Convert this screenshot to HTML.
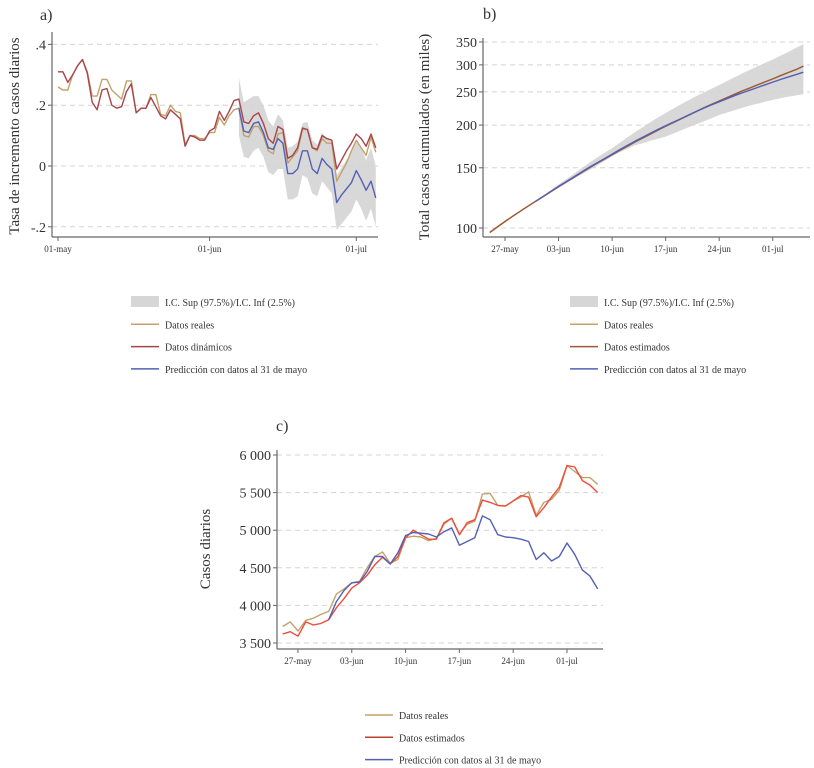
<!DOCTYPE html>
<html><head><meta charset="utf-8"><style>
body{margin:0;background:#fff;width:814px;height:768px;overflow:hidden}
svg{display:block}
text{font-family:"Liberation Serif",serif;fill:#333}
</style></head><body>
<svg id="c" width="814" height="768"></svg>
<script>
// ---- Panel a data (index 0 = 01-may) ----
const aReal=[.26,.25,.25,.30,.33,.35,.31,.23,.23,.285,.285,.25,.235,.22,.28,.28,.175,.19,.19,.235,.235,.17,.165,.20,.18,.175,.07,.10,.10,.09,.09,.11,.11,.16,.135,.165,.185,.19,.10,.095,.13,.13,.10,.05,.04,.105,.11,.01,.03,.05,.12,.12,.06,.05,.09,.075,.075,-.05,-.02,.01,.05,.085,.06,.035,.095,.045];
const aDyn=[.31,.31,.275,.30,.33,.35,.305,.21,.185,.25,.255,.20,.19,.195,.245,.27,.175,.19,.19,.225,.195,.165,.155,.185,.17,.155,.065,.10,.095,.085,.085,.115,.125,.18,.15,.18,.215,.22,.145,.14,.165,.175,.14,.09,.075,.13,.12,.025,.035,.06,.125,.12,.06,.055,.10,.09,.085,-.01,.02,.05,.075,.105,.09,.065,.105,.06];
const aPredStart=37;
const aPred=[.19,.115,.11,.14,.145,.11,.06,.055,.09,.075,-.025,-.025,-.01,.05,.05,-.01,-.025,.025,.005,-.01,-.12,-.095,-.075,-.055,-.015,-.045,-.08,-.05,-.105];
const aUp=[.29,.21,.22,.23,.23,.20,.15,.13,.17,.15,.06,.065,.08,.14,.145,.085,.07,.11,.09,.08,-.03,-.005,.02,.045,.08,.06,.02,.06,0.0];
const aLo=[.10,.03,.025,.05,.06,.03,-.02,-.03,-.01,-.01,-.11,-.11,-.10,-.03,-.04,-.09,-.10,-.05,-.07,-.09,-.21,-.19,-.17,-.15,-.11,-.14,-.18,-.14,-.20];
const aYTicks=[.4,.2,0,-.2];
const aYLabels=[".4",".2","0","-.2"];
const aXTicks=[0,31,61];
const aXLabels=["01-may","01-jun","01-jul"];
// ---- Panel b data (index 0 = 25-may), thousands ----
const bReal=[97,100.7,104.5,108.2,112,115.8,119.7,123.6,127.8,132,136.3,140.6,145.1,149.8,154.5,159,163.7,168.6,173.5,178.4,183.3,188.2,193.3,198.5,203.4,208.5,213.6,219.1,224.6,229.9,235.2,240.6,246,251.5,256.7,262.1,267.5,273,278.9,284.7,290.4,297.5];
const bPredStart=6;
const bPred=[119.7,123.8,128,132.3,136.6,141.1,145.7,150.4,154.9,159.6,164.5,169.5,174.5,179.4,184.3,189.3,194.3,199.1,204,208.9,214.1,219.3,224.2,229.1,234,238.9,243.7,248.3,253,257.6,262.3,267.1,271.8,276.3,280.7,285.5];
const bUp=[120,124.5,129,134,139,144,149.5,155,160.5,166,171,177.5,184,190.5,197,204,210.5,217,223.5,230,236.5,243,249,255.5,262,269,276,283,290,297,304,311,319,327,336,345];
const bLo=[119.5,123,127,131,135,139.5,143.5,147.5,152,157,162,166.5,170.5,174.5,177,180,182.5,185,189,193,197,201,205,209.5,214,217.5,221,224.5,228,231,234,237,239.5,242,244,246];
const bYTicks=[100,150,200,250,300,350];
const bXTicks=[2,9,16,23,30,37];
const bXLabels=["27-may","03-jun","10-jun","17-jun","24-jun","01-jul"];
// ---- Panel c data (index 0 = 25-may) ----
const cReal=[3720,3780,3660,3800,3830,3880,3920,4150,4220,4300,4320,4500,4650,4710,4560,4610,4900,4920,4910,4860,4890,5080,5160,4950,5080,5120,5480,5490,5330,5320,5390,5440,5510,5200,5370,5410,5530,5860,5780,5700,5700,5610];
const cEst=[3620,3650,3590,3780,3740,3760,3810,3970,4090,4230,4300,4400,4540,4640,4550,4650,4900,5000,4940,4880,4880,5100,5160,4940,5100,5140,5400,5370,5330,5320,5390,5460,5440,5180,5300,5440,5570,5860,5840,5660,5600,5500];
const cPredStart=6;
const cPred=[3810,4050,4200,4300,4310,4450,4650,4650,4550,4700,4930,4970,4960,4950,4910,4980,5030,4800,4850,4900,5190,5140,4940,4910,4900,4880,4850,4610,4700,4590,4650,4830,4680,4470,4390,4220];
const cYTicks=[3500,4000,4500,5000,5500,6000];
const cYLabels=["3 500","4 000","4 500","5 000","5 500","6 000"];
const cXTicks=[2,9,16,23,30,37];
const cXLabels=["27-may","03-jun","10-jun","17-jun","24-jun","01-jul"];

const NS="http://www.w3.org/2000/svg";
const svg=document.getElementById('c');
function mk(tag,attrs,parent){const e=document.createElementNS(NS,tag);for(const k in attrs)e.setAttribute(k,attrs[k]);(parent||svg).appendChild(e);return e;}
function txt(x,y,s,size,anchor,parent){const t=mk('text',{x:x,y:y,'font-size':size,'text-anchor':anchor||'start'},parent);t.textContent=s;return t;}

// scales
const ax=d=>58+d*4.89, ay=v=>166-v*304;
const bx=i=>489.7+i*7.65, by=v=>228-148.5*Math.log(v/100);
const cx=i=>282.6+i*7.686, cy=v=>643-(v-3500)*0.0752;

function linePath(vals,start,X,Y){return vals.map((v,i)=>(i?'L':'M')+X(i+start).toFixed(1)+','+Y(v).toFixed(1)).join(' ');}
function bandPath(up,lo,start,X,Y){let d=up.map((v,i)=>(i?'L':'M')+X(i+start).toFixed(1)+','+Y(v).toFixed(1)).join(' ');for(let i=lo.length-1;i>=0;i--)d+='L'+X(i+start).toFixed(1)+','+Y(lo[i]).toFixed(1);return d+'Z';}

function axes(g,left,right,top,bottom,yt,yl,Y,xt,xl,X,ySize){
  yt.forEach((v,i)=>{
    const gl=mk('line',{x1:left,x2:right,y1:Y(v),y2:Y(v),stroke:'#d4d4d4','stroke-dasharray':'5,4'},g);
    
    
    mk('line',{x1:left-4,x2:left,y1:Y(v),y2:Y(v),stroke:'#666'},g);
    const t=txt(left-6,Y(v)+5,yl[i],ySize,'end',g);
    
    
  });
  xt.forEach((v,i)=>{
    mk('line',{x1:X(v),x2:X(v),y1:bottom,y2:bottom+4,stroke:'#666'},g);
    const t=txt(X(v),bottom+15,xl[i],9,'middle',g);
    
    
  });
  const yl1=mk('line',{x1:left,x2:left,y1:top,y2:bottom,stroke:'#666','stroke-width':1.2},g);
  
  
  const xl1=mk('line',{x1:left,x2:right,y1:bottom,y2:bottom,stroke:'#666','stroke-width':1.2},g);
  
  
}
function series(g,vals,start,X,Y,color,name){
  const p=mk('path',{d:linePath(vals,start,X,Y),fill:'none',stroke:color,'stroke-width':1.4,'stroke-linejoin':'round'},g);
  
  
}
function legend(g,x,y,items){
  items.forEach((it,i)=>{
    const yy=y+i*22.3;
    if(it.band){mk('rect',{x:x,y:yy-6,width:28,height:11,fill:'#d6d6d6'},g);}
    else mk('line',{x1:x,x2:x+28,y1:yy,y2:yy,stroke:it.c,'stroke-width':1.5},g);
    const t=txt(x+34,yy+4,it.t,10,'start',g);
    
    
  });
}
const GOLD='#c0a36a', RED='#a8444c', BLUE='#5260b6', BROWN='#9c5a38', CRED='#ee4b3a';

// Panel a
const ga=mk('g',{});


const ba=mk('path',{d:bandPath(aUp,aLo,aPredStart,ax,ay),fill:'#d8d8d8'},ga);


axes(ga,52,378,32,237,aYTicks,aYLabels,ay,aXTicks,aXLabels,ax,14);
series(ga,aReal,0,ax,ay,GOLD,'real-data-line');
series(ga,aDyn,0,ax,ay,RED,'dynamic-data-line');
series(ga,aPred,aPredStart,ax,ay,BLUE,'prediction-line');
txt(40,20,'a)',16,'start',ga);
const ta=txt(0,0,'Tasa de incremento casos diarios',15,'middle',ga);
ta.setAttribute('transform','translate(19,136) rotate(-90)');


legend(ga,131,302,[{band:1,t:'I.C. Sup (97.5%)/I.C. Inf (2.5%)'},{c:GOLD,t:'Datos reales'},{c:RED,t:'Datos dinámicos'},{c:BLUE,t:'Predicción con datos al 31 de mayo'}]);

// Panel b
const gb=mk('g',{});


const bb=mk('path',{d:bandPath(bUp,bLo,bPredStart,bx,by),fill:'#d8d8d8'},gb);


axes(gb,483,810,38,237,bYTicks,bYTicks.map(String),by,bXTicks,bXLabels,bx,14);
series(gb,bReal,0,bx,by,GOLD,'real-data-line');
series(gb,bReal,0,bx,by,BROWN,'estimated-data-line');
series(gb,bPred,bPredStart,bx,by,BLUE,'prediction-line');
txt(483,19,'b)',16,'start',gb);
const tb=txt(0,0,'Total casos acumulados (en miles)',15,'middle',gb);
tb.setAttribute('transform','translate(429,137) rotate(-90)');


legend(gb,570,302,[{band:1,t:'I.C. Sup (97.5%)/I.C. Inf (2.5%)'},{c:GOLD,t:'Datos reales'},{c:BROWN,t:'Datos estimados'},{c:BLUE,t:'Predicción con datos al 31 de mayo'}]);

// Panel c
const gc=mk('g',{});


axes(gc,277,603,450,649,cYTicks,cYLabels,cy,cXTicks,cXLabels,cx,14);
series(gc,cReal,0,cx,cy,GOLD,'real-data-line');
series(gc,cEst,0,cx,cy,CRED,'estimated-data-line');
series(gc,cPred,cPredStart,cx,cy,BLUE,'prediction-line');
txt(276,431,'c)',16,'start',gc);
const tc=txt(0,0,'Casos diarios',15,'middle',gc);
tc.setAttribute('transform','translate(210,549) rotate(-90)');


legend(gc,365,715,[{c:GOLD,t:'Datos reales'},{c:'#b8402e',t:'Datos estimados'},{c:BLUE,t:'Predicción con datos al 31 de mayo'}]);
</script>
</body></html>
